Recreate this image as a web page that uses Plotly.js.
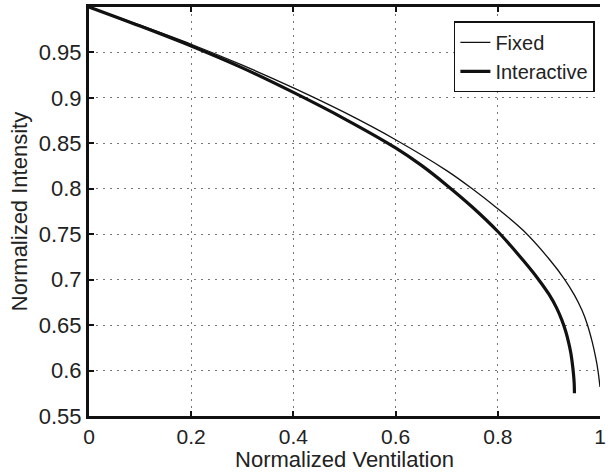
<!DOCTYPE html>
<html>
<head>
<meta charset="utf-8">
<script src="https://cdn.plot.ly/plotly-3.0.1.min.js"></script>
<style>
html,body{margin:0;padding:0;background:#fff;}
#chart{width:608px;height:472px;}
</style>
</head>
<body>
<div id="chart"></div>
<script>
// Fixed curve
var fixedX = [0, 0.1, 0.2, 0.3, 0.4, 0.5, 0.6, 0.7, 0.75, 0.8, 0.85, 0.9, 0.93, 0.95, 0.965, 0.975, 0.985, 0.992, 0.996, 1.0];
var fixedY = [1.000, 0.980, 0.959, 0.936, 0.911, 0.884, 0.854, 0.820, 0.800, 0.778, 0.754, 0.723, 0.701, 0.683, 0.666, 0.651, 0.631, 0.613, 0.600, 0.582];
// Interactive curve
var interX = [0, 0.1, 0.2, 0.3, 0.4, 0.5, 0.6, 0.65, 0.7, 0.75, 0.8, 0.85, 0.88, 0.9, 0.915, 0.925, 0.933, 0.939, 0.943, 0.946, 0.948, 0.9495, 0.950];
var interY = [1.000, 0.979, 0.957, 0.933, 0.906, 0.877, 0.845, 0.826, 0.804, 0.780, 0.753, 0.721, 0.700, 0.684, 0.669, 0.656, 0.643, 0.630, 0.619, 0.607, 0.597, 0.586, 0.575];

var xTicks = [0, 0.2, 0.4, 0.6, 0.8, 1];
var xTickText = ['0', '0.2', '0.4', '0.6', '0.8', '1'];
var yTicks = [0.55, 0.6, 0.65, 0.7, 0.75, 0.8, 0.85, 0.9, 0.95];
var yTickText = ['0.55', '0.6', '0.65', '0.7', '0.75', '0.8', '0.85', '0.9', '0.95'];

var seriesNames = ['Fixed', 'Interactive'];
var FONT = 'Liberation Sans, Arial, Helvetica, sans-serif';

var traces = [
  {x: fixedX, y: fixedY, name: seriesNames[0], mode: 'lines', type: 'scatter',
   line: {color: '#111', width: 1.3, shape: 'spline', smoothing: 1}},
  {x: interX, y: interY, name: seriesNames[1], mode: 'lines', type: 'scatter',
   line: {color: '#111', width: 3.2, shape: 'spline', smoothing: 1}}
];

var layout = {
  width: 608, height: 472,
  margin: {l: 88.5, r: 8, t: 6.5, b: 56, pad: 0, autoexpand: false},
  paper_bgcolor: '#fff', plot_bgcolor: '#fff',
  font: {family: FONT, color: '#222', size: 22},
  showlegend: true,
  legend: {
    x: 0.99, y: 0.965, xanchor: 'right', yanchor: 'top',
    bgcolor: '#fff', bordercolor: '#111', borderwidth: 1.5,
    font: {family: FONT, size: 20, color: '#222'},
    tracegroupgap: 0
  },
  xaxis: {
    range: [0, 1], tickvals: xTicks, ticktext: xTickText,
    ticks: 'inside', ticklen: 5, tickwidth: 2, tickcolor: '#111',
    showline: true, linecolor: '#111', linewidth: 3, mirror: 'ticks',
    showgrid: true, gridcolor: '#777', gridwidth: 1, griddash: '2px,5px',
    zeroline: false, ticklabeloverflow: 'allow', automargin: false,
    tickfont: {family: FONT, size: 21, color: '#222'},
    title: {text: 'Normalized Ventilation', font: {family: FONT, size: 22, color: '#222'}, standoff: 4}
  },
  yaxis: {
    range: [0.55, 1.0], tickvals: yTicks, ticktext: yTickText,
    ticks: 'inside', ticklen: 5, tickwidth: 2, tickcolor: '#111',
    showline: true, linecolor: '#111', linewidth: 3, mirror: false,
    showgrid: true, gridcolor: '#777', gridwidth: 1, griddash: '2px,5px',
    zeroline: false, automargin: false,
    tickfont: {family: FONT, size: 22, color: '#222'},
    title: {text: 'Normalized Intensity', font: {family: FONT, size: 22, color: '#222'}, standoff: 6}
  }
};

Plotly.newPlot('chart', traces, layout, {staticPlot: true, displayModeBar: false});
</script>
</body>
</html>
